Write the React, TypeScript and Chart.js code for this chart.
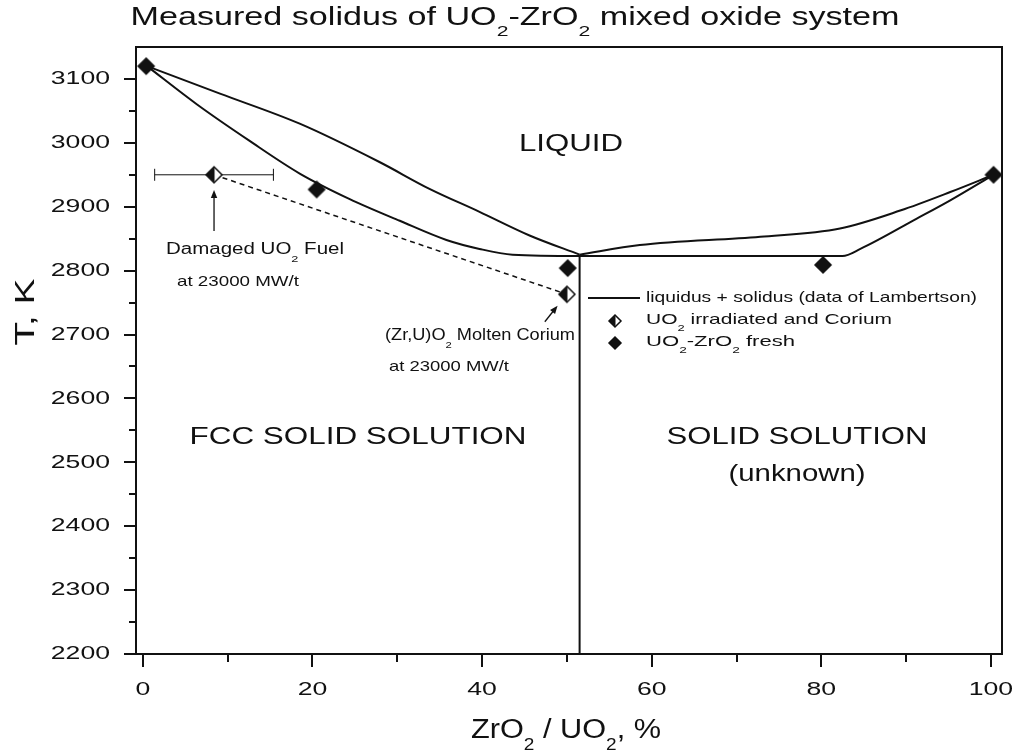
import React, { useEffect, useRef } from "react";
import { Chart, registerables } from "chart.js";

Chart.register(...registerables);

// ---------- axis ticks ----------
const xTicks = [0, 20, 40, 60, 80, 100];
const xMinorTicks = [10, 30, 50, 70, 90];
const yTicks = [2200, 2300, 2400, 2500, 2600, 2700, 2800, 2900, 3000, 3100];
const yMinorTicks = [2250, 2350, 2450, 2550, 2650, 2750, 2850, 2950, 3050];

// ---------- Lambertson liquidus (two branches, meeting at the minimum) ----------
const liquidusLeftX = [0.5, 9.1, 18.5, 27.9, 33.8, 39.7, 45.6, 51.5];
const liquidusLeftT = [3120, 3077, 3030, 2970, 2928, 2892, 2855, 2825];
const liquidusRightX = [51.5, 58.6, 72.8, 82.2, 89.3, 95.2, 100.3];
const liquidusRightT = [2825, 2840, 2853, 2866, 2894, 2923, 2950];

// ---------- Lambertson solidus ----------
const solidusX = [0.5, 6.4, 12.6, 18.5, 24.4, 30.3, 35.8, 39.7, 43.6, 51.5, 72.8, 82.5, 84.6, 91.2, 95.2, 100.3];
const solidusT = [3120, 3060, 3003, 2952, 2912, 2878, 2848, 2834, 2825, 2823, 2823, 2823, 2834, 2881, 2910, 2950];

// ---------- phase boundary (vertical) ----------
const boundaryX = [51.5, 51.5];
const boundaryT = [2825, 2200];

// ---------- measured points ----------
const irradiatedX = [8.4, 50.0];
const irradiatedT = [2950, 2763];
const irradiatedXErr = [7.0, 0];

const freshX = [0.4, 20.5, 50.1, 80.2, 100.3];
const freshT = [3120, 2927, 2804, 2809, 2950];

// ---------- arrows (data coordinates: from -> to) ----------
const arrowFuel = { x1: 8.4, y1: 2862, x2: 8.4, y2: 2926 };
const arrowCorium = { x1: 47.4, y1: 2720, x2: 48.9, y2: 2745 };

const INK = "#111";
const FONT = '"Liberation Sans", Arial, sans-serif';

type Seg = [string, boolean?];
type RichOpts = { size: number; align?: "left" | "center" | "right"; width?: number; sx?: number; rot?: boolean };

const font = (s: number) => `${s}px ${FONT}`;

function rich(ctx: CanvasRenderingContext2D, segs: Seg[], x: number, y: number, o: RichOpts) {
  const size = o.size;
  const sub = size * 0.62;
  ctx.save();
  const ws = segs.map((s) => {
    ctx.font = font(s[1] ? sub : size);
    return ctx.measureText(s[0]).width;
  });
  const total = ws.reduce((a, b) => a + b, 0);
  const sx = o.width ? o.width / total : o.sx ?? 1;
  const W = total * sx;
  const align = o.align ?? "center";
  ctx.translate(x, y);
  if (o.rot) ctx.rotate(-Math.PI / 2);
  const start = align === "left" ? 0 : align === "right" ? -W : -W / 2;
  ctx.translate(start, 0);
  ctx.scale(sx, 1);
  ctx.fillStyle = INK;
  ctx.textBaseline = "middle";
  ctx.textAlign = "left";
  let cx = 0;
  segs.forEach((s, i) => {
    ctx.font = font(s[1] ? sub : size);
    ctx.fillText(s[0], cx, s[1] ? size * 0.55 : 0);
    cx += ws[i];
  });
  ctx.restore();
}

function makeDiamond(r: number, half: boolean) {
  const c = document.createElement("canvas");
  const s = Math.ceil(2 * r + 4);
  c.width = s;
  c.height = s;
  const g = c.getContext("2d")!;
  const m = s / 2;
  const path = () => {
    g.beginPath();
    g.moveTo(m, m - r);
    g.lineTo(m + r, m);
    g.lineTo(m, m + r);
    g.lineTo(m - r, m);
    g.closePath();
  };
  g.lineWidth = 1.5;
  g.strokeStyle = INK;
  if (!half) {
    path();
    g.fillStyle = INK;
    g.fill();
    g.stroke();
  } else {
    path();
    g.fillStyle = "#fff";
    g.fill();
    g.beginPath();
    g.moveTo(m + 0.5, m - r);
    g.lineTo(m + 0.5, m + r);
    g.lineTo(m - r, m);
    g.closePath();
    g.fillStyle = INK;
    g.fill();
    path();
    g.stroke();
  }
  return c;
}

function arrow(ctx: CanvasRenderingContext2D, x1: number, y1: number, x2: number, y2: number) {
  const a = Math.atan2(y2 - y1, x2 - x1);
  const h = 8;
  const w = 3.2;
  ctx.save();
  ctx.strokeStyle = INK;
  ctx.fillStyle = INK;
  ctx.lineWidth = 1.3;
  ctx.beginPath();
  ctx.moveTo(x1, y1);
  ctx.lineTo(x2 - Math.cos(a) * h * 0.8, y2 - Math.sin(a) * h * 0.8);
  ctx.stroke();
  ctx.beginPath();
  ctx.moveTo(x2, y2);
  ctx.lineTo(x2 - Math.cos(a) * h - Math.sin(a) * w, y2 - Math.sin(a) * h + Math.cos(a) * w);
  ctx.lineTo(x2 - Math.cos(a) * h + Math.sin(a) * w, y2 - Math.sin(a) * h - Math.cos(a) * w);
  ctx.closePath();
  ctx.fill();
  ctx.restore();
}

const zip = (xs: number[], ys: number[]) => xs.map((x, i) => ({ x, y: ys[i] }));

export default function App() {
  const ref = useRef<HTMLCanvasElement>(null);

  useEffect(() => {
    const canvas = ref.current!;
    const halfD = makeDiamond(8, true);
    const fullD = makeDiamond(8, false);
    const halfL = makeDiamond(6, true);
    const fullL = makeDiamond(6, false);

    const decor = {
      id: "decor",
      beforeDatasetsDraw(chart: any) {
        const { ctx, scales } = chart;
        const x = scales.x;
        const y = scales.y;
        ctx.save();
        ctx.strokeStyle = INK;
        ctx.lineWidth = 1;
        irradiatedX.forEach((v, i) => {
          const e = irradiatedXErr[i];
          if (!e) return;
          const py = y.getPixelForValue(irradiatedT[i]);
          const a = x.getPixelForValue(v - e);
          const b = x.getPixelForValue(v + e);
          ctx.beginPath();
          ctx.moveTo(a, py);
          ctx.lineTo(b, py);
          ctx.moveTo(a, py - 6);
          ctx.lineTo(a, py + 6);
          ctx.moveTo(b, py - 6);
          ctx.lineTo(b, py + 6);
          ctx.stroke();
        });
        ctx.restore();
      },
      afterDraw(chart: any) {
        const { ctx, scales, chartArea: ca } = chart;
        const x = scales.x;
        const y = scales.y;
        ctx.save();
        // frame
        ctx.strokeStyle = INK;
        ctx.lineWidth = 2;
        ctx.strokeRect(ca.left, ca.top, ca.right - ca.left, ca.bottom - ca.top);
        // ticks
        ctx.beginPath();
        yTicks.forEach((v) => {
          const p = Math.round(y.getPixelForValue(v));
          ctx.moveTo(ca.left, p);
          ctx.lineTo(ca.left - 12, p);
        });
        yMinorTicks.forEach((v) => {
          const p = Math.round(y.getPixelForValue(v));
          ctx.moveTo(ca.left, p);
          ctx.lineTo(ca.left - 7, p);
        });
        xTicks.forEach((v) => {
          const p = Math.round(x.getPixelForValue(v));
          ctx.moveTo(p, ca.bottom);
          ctx.lineTo(p, ca.bottom + 13);
        });
        xMinorTicks.forEach((v) => {
          const p = Math.round(x.getPixelForValue(v));
          ctx.moveTo(p, ca.bottom);
          ctx.lineTo(p, ca.bottom + 8);
        });
        ctx.stroke();
        ctx.restore();

        // tick labels
        yTicks.forEach((v) => rich(ctx, [[String(v)]], 110, y.getPixelForValue(v), { size: 19, sx: 1.4, align: "right" }));
        xTicks.forEach((v) => rich(ctx, [[String(v)]], x.getPixelForValue(v), 690, { size: 19, sx: 1.4 }));

        // titles
        rich(ctx, [["Measured solidus of UO"], ["2", true], ["-ZrO"], ["2", true], [" mixed oxide system"]], 515, 18, { size: 25, width: 769 });
        rich(ctx, [["ZrO"], ["2", true], [" / UO"], ["2", true], [", %"]], 566, 731, { size: 27, width: 190 });
        rich(ctx, [["T, K"]], 26, 312, { size: 28, width: 67, rot: true });

        // region labels
        rich(ctx, [["LIQUID"]], 571, 145, { size: 23, width: 104 });
        rich(ctx, [["FCC SOLID SOLUTION"]], 358, 437, { size: 24, width: 337 });
        rich(ctx, [["SOLID SOLUTION"]], 797, 437, { size: 24, width: 261 });
        rich(ctx, [["(unknown)"]], 797, 474, { size: 24, width: 137 });

        // point annotations
        rich(ctx, [["Damaged UO"], ["2", true], [" Fuel"]], 166, 250, { size: 16, width: 178, align: "left" });
        rich(ctx, [["at 23000 MW/t"]], 177, 282, { size: 15, width: 122, align: "left" });
        rich(ctx, [["(Zr,U)O"], ["2", true], [" Molten Corium"]], 385, 336, { size: 16, width: 190, align: "left" });
        rich(ctx, [["at 23000 MW/t"]], 389, 367, { size: 15, width: 120, align: "left" });

        arrow(ctx, x.getPixelForValue(arrowFuel.x1), y.getPixelForValue(arrowFuel.y1), x.getPixelForValue(arrowFuel.x2), y.getPixelForValue(arrowFuel.y2));
        arrow(ctx, x.getPixelForValue(arrowCorium.x1), y.getPixelForValue(arrowCorium.y1), x.getPixelForValue(arrowCorium.x2), y.getPixelForValue(arrowCorium.y2));

        // legend
        ctx.save();
        ctx.strokeStyle = INK;
        ctx.lineWidth = 2;
        ctx.beginPath();
        ctx.moveTo(588, 298);
        ctx.lineTo(640, 298);
        ctx.stroke();
        ctx.drawImage(halfL, 615 - halfL.width / 2, 321 - halfL.height / 2);
        ctx.drawImage(fullL, 615 - fullL.width / 2, 343 - fullL.height / 2);
        ctx.restore();
        rich(ctx, [["liquidus + solidus (data of Lambertson)"]], 646, 298, { size: 15, width: 331, align: "left" });
        rich(ctx, [["UO"], ["2", true], [" irradiated and Corium"]], 646, 320, { size: 15, width: 246, align: "left" });
        rich(ctx, [["UO"], ["2", true], ["-ZrO"], ["2", true], [" fresh"]], 646, 342, { size: 15, width: 149, align: "left" });
      },
    };

    const curve = (data: any[], label: string) => ({
      label,
      data,
      showLine: true,
      borderColor: INK,
      borderWidth: 2,
      pointRadius: 0,
      cubicInterpolationMode: "monotone" as const,
      fill: false,
    });

    const chart = new Chart(canvas, {
      type: "scatter",
      data: {
        datasets: [
          {
            label: "UO2 irradiated and Corium",
            data: zip(irradiatedX, irradiatedT),
            pointStyle: halfD,
            pointRadius: 8,
            showLine: false,
          },
          {
            label: "UO2-ZrO2 fresh",
            data: zip(freshX, freshT),
            pointStyle: fullD,
            pointRadius: 8,
            showLine: false,
          },
          {
            label: "irradiated trend",
            data: zip(irradiatedX, irradiatedT),
            showLine: true,
            borderColor: INK,
            borderWidth: 1.5,
            borderDash: [5, 4],
            pointRadius: 0,
          },
          curve(zip(liquidusLeftX, liquidusLeftT), "liquidus (UO2 side)"),
          curve(zip(liquidusRightX, liquidusRightT), "liquidus (ZrO2 side)"),
          curve(zip(solidusX, solidusT), "solidus"),
          {
            label: "phase boundary",
            data: zip(boundaryX, boundaryT),
            showLine: true,
            borderColor: INK,
            borderWidth: 2,
            pointRadius: 0,
          },
        ],
      },
      options: {
        animation: false,
        responsive: false,
        devicePixelRatio: 1,
        layout: { padding: { top: 47, right: 11, left: 0, bottom: 0 } },
        plugins: {
          legend: { display: false },
          title: { display: false },
          tooltip: { enabled: false },
        },
        scales: {
          x: {
            type: "linear",
            min: -0.8,
            max: 101.3,
            grid: { display: false },
            border: { display: false },
            ticks: { display: false },
            afterBuildTicks: (s: any) => {
              s.ticks = xTicks.map((v) => ({ value: v }));
            },
            afterFit: (s: any) => {
              s.height = 99;
            },
          },
          y: {
            type: "linear",
            min: 2200,
            max: 3150,
            grid: { display: false },
            border: { display: false },
            ticks: { display: false },
            afterBuildTicks: (s: any) => {
              s.ticks = yTicks.map((v) => ({ value: v }));
            },
            afterFit: (s: any) => {
              s.width = 136;
            },
          },
        },
      },
      plugins: [decor],
    } as any);

    return () => chart.destroy();
  }, []);

  return (
    <div style={{ position: "absolute", left: 0, top: 0, width: 1013, height: 753, background: "#fff" }}>
      <canvas ref={ref} width={1013} height={753} style={{ display: "block", width: 1013, height: 753 }} />
    </div>
  );
}
